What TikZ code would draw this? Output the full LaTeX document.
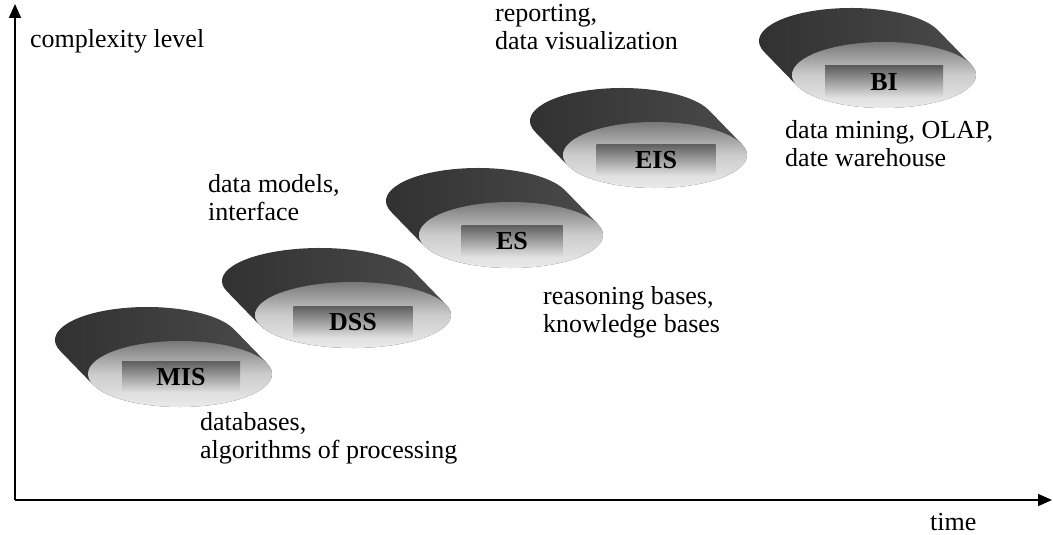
\documentclass[tikz,border=0pt]{standalone}
\usepackage{fontspec}
\setmainfont{Liberation Serif}
\usetikzlibrary{arrows.meta}
\definecolor{bodyL}{HTML}{303030}
\definecolor{bodyR}{HTML}{4C4C4C}
\definecolor{frontT}{HTML}{787878}
\definecolor{frontM}{HTML}{CCCCCC}
\definecolor{frontB}{HTML}{EBEBEB}
\definecolor{boxT}{HTML}{5E5E5E}
\definecolor{boxB}{HTML}{E2E2E2}
\tikzset{
  axisline/.style={line width=2pt,-{Triangle[length=14pt,width=12pt]}},
  bodyfill/.style={left color=bodyL,right color=bodyR},
  frontfill/.style={top color=frontT,bottom color=frontB,middle color=frontM},
  labelbox/.style={top color=boxT,bottom color=boxB,inner sep=0pt,minimum height=32pt,
    font=\fontsize{26}{30}\selectfont\bfseries},
  plaintext/.style={inner sep=0pt,align=left,font=\fontsize{26}{28.5}\selectfont},
}
\newcommand\diskat[4]{% #1 name, #2 cx, #3 cy, #4 rx
  \pgfmathsetmacro\dkT{atan(-1089/(34*#4))}
  \pgfmathsetmacro\dkX{#4*cos(\dkT)}
  \pgfmathsetmacro\dkY{33*sin(\dkT)}
  \coordinate (#1c) at (#2,#3);
  \coordinate (#1fr) at (#2+\dkX,#3+\dkY);
  \coordinate (#1fl) at (#2-\dkX,#3-\dkY);
  \path[bodyfill] (#1fr) -- ++(-33,-34)
     arc[start angle=\dkT, end angle=\dkT-180, x radius=#4, y radius=33]
     -- (#1fl)
     arc[start angle=\dkT+180, end angle=\dkT, x radius=#4, y radius=33] -- cycle;
  \path[frontfill] (#1c) ellipse[x radius=#4, y radius=33];
}
\begin{document}
\begin{tikzpicture}[x=1pt,y=-1pt]
\useasboundingbox (0,0) rectangle (1053,535);
% axes
\coordinate (origin) at (15,500);
\coordinate (ytop) at (15,4);
\coordinate (xend) at (1052,500);
\draw[axisline] (origin) -- (ytop);
\draw[axisline] (origin) -- (xend);
\node[plaintext,anchor=base west] (ylab) at (30,48) {complexity level};
\node[plaintext,anchor=base west] (xlab) at (930,530) {time};
% disks
\diskat{mis}{180}{374}{92}
\node[labelbox,minimum width=118pt] (mis) at (181,377) {MIS};
\diskat{dss}{353}{315}{98}
\node[labelbox,minimum width=119pt] (dss) at (353,322) {DSS};
\diskat{es}{511}{235}{92}
\node[labelbox,minimum width=101pt] (es) at (512,241) {ES};
\diskat{eis}{655}{155}{92}
\node[labelbox,minimum width=119pt] (eis) at (656,160) {EIS};
\diskat{bi}{884}{75}{92}
\node[labelbox,minimum width=118pt] (bi) at (884,82) {BI};
% texts
\node[plaintext,anchor=north west] (t1) at (200,412) {databases,\\algorithms of processing};
\node[plaintext,anchor=north west] (t2) at (208,174) {data models,\\interface};
\node[plaintext,anchor=north west] (t3) at (543,286) {reasoning bases,\\knowledge bases};
\node[plaintext,anchor=north west] (t4) at (495,4) {reporting,\\data visualization};
\node[plaintext,anchor=north west] (t5) at (785,120) {data mining, OLAP,\\date warehouse};
\end{tikzpicture}
\end{document}
